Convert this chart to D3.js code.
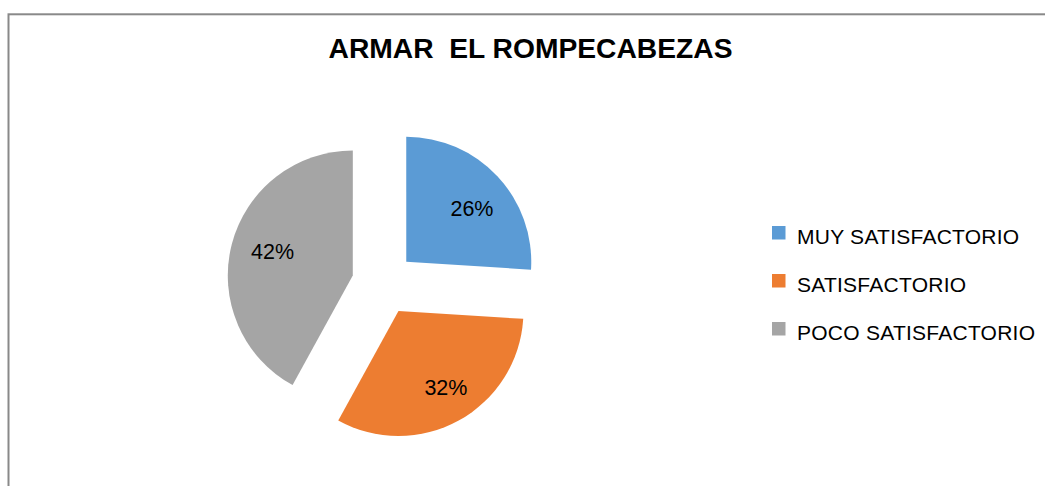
<!DOCTYPE html>
<html>
<head>
<meta charset="utf-8">
<script src="https://cdn.jsdelivr.net/npm/d3@7"></script>
<style>
  html, body { margin: 0; padding: 0; background: #ffffff; }
  svg { display: block; }
</style>
</head>
<body>
<svg id="chart" width="1045" height="486"></svg>
<script>
const title = "ARMAR  EL ROMPECABEZAS";
const categories = ["MUY SATISFACTORIO", "SATISFACTORIO", "POCO SATISFACTORIO"];
const values = [26, 32, 42];
const labels = ["26%", "32%", "42%"];
const colors = ["#5B9BD5", "#ED7D31", "#A5A5A5"];

const svg = d3.select("#chart");
const W = 1045, H = 486;

svg.append("rect").attr("x", 0).attr("y", 0).attr("width", W).attr("height", H).attr("fill", "#fff");

// chart border (runs off the right and bottom edges)
svg.append("rect")
  .attr("x", 8.5).attr("y", 14.3)
  .attr("width", 1100).attr("height", 600)
  .attr("fill", "none")
  .attr("stroke", "#898989")
  .attr("stroke-width", 2);

// title
svg.append("text")
  .attr("x", 530.5).attr("y", 58.3)
  .attr("text-anchor", "middle")
  .attr("font-family", "Liberation Sans, Arial, sans-serif")
  .attr("font-weight", "bold")
  .attr("font-size", 27)
  .attr("textLength", 404)
  .attr("lengthAdjust", "spacingAndGlyphs")
  .attr("fill", "#000")
  .style("white-space", "pre")
  .text(title);

// pie
const cx = 383.3, cy = 283.4, r = 125, explode = 31.5, labelR = 86;
const pie = d3.pie().sort(null).value(d => d)(values);
const arc = d3.arc().innerRadius(0).outerRadius(r);

const g = svg.append("g").attr("transform", `translate(${cx},${cy})`);
const slices = g.selectAll("g.slice").data(pie).join("g")
  .attr("class", "slice")
  .attr("transform", d => {
    const a = (d.startAngle + d.endAngle) / 2;
    return `translate(${explode * Math.sin(a)},${-explode * Math.cos(a)})`;
  });

slices.append("path")
  .attr("d", arc)
  .attr("fill", (d, i) => colors[i]);

slices.append("text")
  .attr("x", d => labelR * Math.sin((d.startAngle + d.endAngle) / 2) + [3, 6, 3][d.index])
  .attr("y", d => -labelR * Math.cos((d.startAngle + d.endAngle) / 2) + [5, 1, -3][d.index])
  .attr("text-anchor", "middle")
  .attr("dy", "0.36em")
  .attr("font-family", "Liberation Sans, Arial, sans-serif")
  .attr("font-size", 21.5)
  .attr("fill", "#000")
  .text((d, i) => labels[i]);

// legend
const legend = svg.append("g");
const lx = 772, ly0 = 226, lstep = 48, sq = 13.5;
const items = legend.selectAll("g").data(categories).join("g")
  .attr("transform", (d, i) => `translate(${lx},${ly0 + i * lstep})`);
items.append("rect")
  .attr("width", sq).attr("height", sq)
  .attr("fill", (d, i) => colors[i]);
items.append("text")
  .attr("x", 25).attr("y", 17.7)
  .attr("font-family", "Liberation Sans, Arial, sans-serif")
  .attr("font-size", 21)
  .attr("fill", "#000")
  .attr("letter-spacing", 0.25)
  .text(d => d);
</script>
</body>
</html>
